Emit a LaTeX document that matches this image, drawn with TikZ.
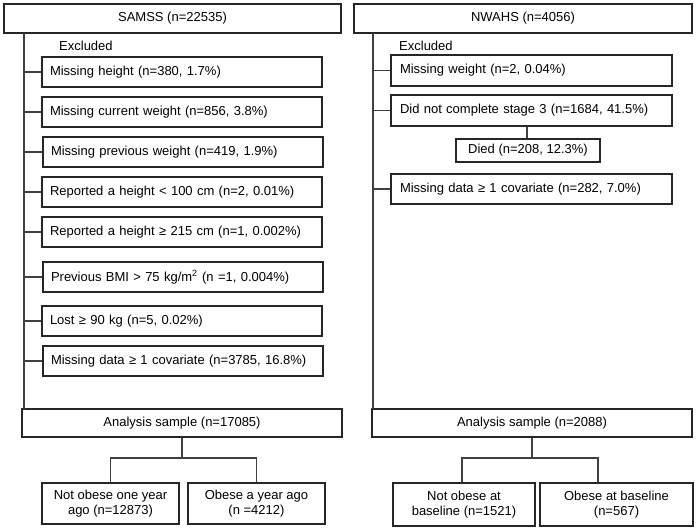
\documentclass[tikz,border=0pt]{standalone}
\usepackage{fontspec}
\setmainfont{Liberation Sans}
\begin{document}
\begin{tikzpicture}[x=1pt,y=-1pt,
  ln/.style={draw=black!75, line width=1.4pt},
  box/.style={draw=black!85, line width=1.4pt, inner sep=0pt, font=\fontsize{13}{15}\selectfont},
  exbox/.style={box, minimum width=280pt, minimum height=30pt, text width=264pt, align=left},
  exboxr/.style={box, minimum width=281pt, minimum height=30pt, text width=263pt, align=left},
  headbox/.style={box, minimum height=29pt, align=center},
  outbox/.style={box, align=center},
  lbl/.style={inner sep=0pt, font=\fontsize{13}{15}\selectfont, anchor=west}]
\useasboundingbox (0,0) rectangle (696,531);

% ---------------- left column: SAMSS ----------------
\node[headbox, minimum width=337pt] (samss) at (172.5,18.5) {SAMSS (n=22535)};
\node[lbl] (exl) at (59,46) {Excluded};
\node[exbox] (l1) at (182,72) {Missing height (n=380, 1.7\%)};
\node[exbox] (l2) at (182,112) {Missing current weight (n=856, 3.8\%)};
\node[exbox] (l3) at (183,152) {Missing previous weight (n=419, 1.9\%)};
\node[exbox] (l4) at (182,192) {Reported a height < 100 cm (n=2, 0.01\%)};
\node[exbox] (l5) at (182,232) {Reported a height ≥ 215 cm (n=1, 0.002\%)};
\node[exbox] (l6) at (183,277) {Previous BMI > 75 kg/m\textsuperscript{2} (n =1, 0.004\%)};
\node[exbox] (l7) at (182,321) {Lost ≥ 90 kg (n=5, 0.02\%)};
\node[exbox] (l8) at (183,361) {Missing data ≥ 1 covariate (n=3785, 16.8\%)};
\node[headbox, minimum width=320pt, minimum height=28pt] (anal) at (182,423) {Analysis sample (n=17085)};
\node[outbox, minimum width=137pt, minimum height=41pt] (nol) at (110.5,503.5) {Not obese one year\\ago (n=12873)};
\node[outbox, minimum width=137pt, minimum height=41pt] (obl) at (256.5,503.5) {Obese a year ago\\(n =4212)};

\coordinate (ltop) at (24,33);
\coordinate (lbot) at (24,409);
\draw[ln] (ltop) -- (lbot);
\foreach \b in {l1,l2,l3,l4,l5,l6,l7,l8}{
  \draw[ln] (ltop |- \b.west) -- (\b.west);
}
\coordinate (lsplit) at (182,458);
\draw[ln] (anal.south) -- (lsplit);
\draw[ln] (nol.north) |- (lsplit) -| (obl.north);

% ---------------- right column: NWAHS ----------------
\node[headbox, minimum width=338pt] (nwahs) at (523,18.5) {NWAHS (n=4056)};
\node[lbl] (exr) at (399,46) {Excluded};
\node[exboxr, minimum height=31pt] (r1) at (531.5,70.5) {Missing weight (n=2, 0.04\%)};
\node[exboxr, minimum height=31pt] (r2) at (531.5,110.5) {Did not complete stage 3 (n=1684, 41.5\%)};
\node[outbox, minimum width=144pt, minimum height=23pt] (died) at (528,150.5) {Died (n=208, 12.3\%)};
\node[exboxr] (r3) at (531.5,189) {Missing data ≥ 1 covariate (n=282, 7.0\%)};
\node[headbox, minimum width=320pt, minimum height=28pt] (anar) at (532,423) {Analysis sample (n=2088)};
\node[outbox, minimum width=142pt, minimum height=43pt] (nor) at (464,504.5) {Not obese at\\baseline (n=1521)};
\node[outbox, minimum width=153pt, minimum height=43pt] (obr) at (616.5,504.5) {Obese at baseline\\(n=567)};

\coordinate (rtop) at (373,33);
\coordinate (rbot) at (373,409);
\draw[ln] (rtop) -- (rbot);
\foreach \b in {r1,r2,r3}{
  \draw[ln] (rtop |- \b.west) -- (\b.west);
}
\draw[ln] (died.north -| 527,0) -- (r2.south -| 527,0);
\coordinate (rsplit) at (532,458);
\coordinate (rsl) at (462,458);
\coordinate (rsr) at (598,458);
\draw[ln] (anar.south) -- (rsplit);
\draw[ln] (rsl |- nor.north) -- (rsl) -- (rsr) -- (rsr |- obr.north);
\end{tikzpicture}
\end{document}
